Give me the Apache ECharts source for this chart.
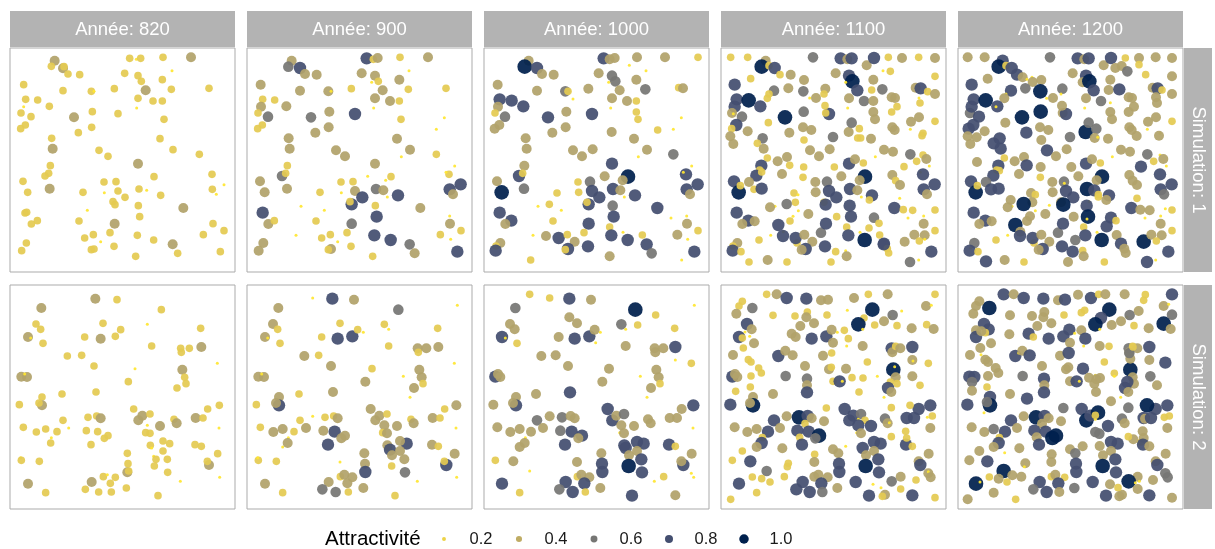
<!DOCTYPE html>
<html><head><meta charset="utf-8">
<script src="https://cdn.jsdelivr.net/npm/echarts@6/dist/echarts.min.js"></script>
<style>html,body{margin:0;padding:0;background:#fff}#c{width:1215px;height:549px}</style>
</head><body><div id="c"></div>
<script>
// Facet labels
const years = ["Année: 820","Année: 900","Année: 1000","Année: 1100","Année: 1200"];
const sims = ["Simulation: 1","Simulation: 2"];
const legendTitle = "Attractivité";
const legendValues = [0.2,0.4,0.6,0.8,1.0];

// Points [x, y, attractivité] (coordinates in a 0..690 field)
const s1_820 = [[140,50,.45],[130,67,.25],[165,73,.45],[168,68,.25],[180,90,.25],[215,92,.25],[365,43,.25],[385,46,.1],[398,43,.25],[465,40,.25],[549,40,.45],[492,80,.1],[350,88,.25],[390,95,.25],[400,112,.25],[463,107,.25],[47,122,.25],[165,140,.25],[250,142,.25],[258,142,.1],[319,134,.25],[413,139,.45],[490,136,.25],[603,133,.25],[53,166,.25],[89,168,.25],[390,163,.25],[435,171,.25],[463,171,.25],[47,188,.1],[124,187,.25],[386,192,.1],[39,207,.25],[69,218,.25],[198,220,.45],[253,203,.25],[330,209,.25],[468,226,.25],[52,243,.25],[38,254,.25],[211,266,.25],[251,250,.25],[131,283,.25],[456,284,.25],[134,314,.45],[273,319,.25],[300,337,.25],[495,317,.25],[574,331,.25],[390,359,.45],[127,365,.25],[122,388,.25],[111,396,.25],[45,412,.25],[438,398,.25],[612,391,.25],[125,434,.45],[59,445,.25],[225,445,.25],[288,414,.25],[324,413,.25],[289,446,.1],[330,441,.25],[351,460,.25],[393,435,.25],[416,439,.1],[458,454,.25],[613,436,.25],[648,422,.1],[625,451,.1],[315,473,.25],[321,482,.25],[391,485,.25],[526,492,.45],[238,499,.1],[51,507,.25],[56,505,.25],[88,530,.25],[70,540,.25],[213,531,.25],[395,518,.25],[320,539,.45],[615,539,.25],[648,560,.25],[586,572,.25],[230,582,.25],[256,572,.25],[306,566,.25],[388,574,.25],[437,588,.25],[55,597,.25],[41,620,.25],[278,593,.1],[250,617,.25],[258,615,.25],[318,607,.25],[494,601,.45],[509,628,.25],[637,623,.25],[383,637,.25]];

const s1_900 = [[140,50,.45],[130,68,.6],[165,72,.8],[180,90,.45],[215,92,.45],[365,43,.8],[385,46,.25],[398,42,.45],[465,40,.25],[549,40,.45],[492,80,.1],[350,88,.45],[390,95,.45],[400,112,.25],[380,115,.1],[463,107,.45],[47,122,.45],[165,140,.45],[250,142,.45],[258,142,.1],[319,134,.25],[413,139,.45],[490,136,.25],[603,133,.25],[53,166,.25],[89,168,.25],[390,163,.45],[435,171,.45],[463,171,.25],[48,188,.45],[124,187,.45],[386,192,.1],[39,207,.25],[69,218,.6],[198,220,.6],[253,203,.45],[330,210,.8],[468,226,.25],[598,221,.1],[52,243,.25],[38,254,.25],[211,266,.45],[251,250,.45],[574,256,.1],[131,283,.45],[456,284,.45],[134,314,.45],[273,319,.45],[300,337,.45],[495,317,.45],[574,331,.25],[469,338,.1],[390,359,.45],[127,365,.25],[629,366,.1],[111,396,.6],[122,388,.25],[45,412,.45],[438,398,.25],[612,391,.25],[603,385,.1],[368,397,.1],[422,409,.1],[647,421,.8],[614,436,.8],[624,451,.45],[126,434,.45],[59,445,.45],[225,445,.25],[288,414,.25],[324,413,.25],[289,446,.1],[330,441,.45],[393,435,.6],[415,439,.45],[352,460,.8],[459,454,.8],[427,459,.1],[320,481,.8],[315,473,.25],[391,485,.25],[526,492,.45],[168,487,.1],[238,499,.1],[53,506,.8],[70,540,.45],[88,530,.25],[213,531,.25],[395,518,.8],[320,539,.6],[615,539,.45],[614,516,.1],[648,560,.25],[586,572,.25],[153,574,.1],[230,582,.25],[256,572,.25],[306,566,.25],[388,574,.8],[437,588,.8],[617,586,.1],[55,597,.45],[41,620,.45],[278,593,.1],[258,615,.45],[250,617,.25],[318,607,.25],[494,601,.6],[509,628,.45],[637,623,.8],[383,637,.25]];

const s1_1000 = [[140,50,.45],[128,68,1],[165,72,.8],[180,90,.45],[215,92,.45],[365,43,.8],[383,46,.45],[398,42,.45],[465,40,.45],[549,40,.45],[648,40,.25],[442,64,.1],[492,80,.1],[350,88,.45],[390,95,.6],[400,112,.6],[380,115,.1],[463,107,.45],[47,122,.45],[165,140,.45],[250,142,.6],[258,142,.25],[273,165,.1],[319,134,.45],[413,139,.45],[490,136,.6],[590,131,.25],[603,133,.45],[53,166,.8],[89,170,.8],[124,187,.8],[390,163,.45],[435,171,.45],[463,171,.25],[48,188,.45],[386,192,.1],[39,207,.25],[69,218,.6],[198,220,.8],[253,203,.45],[330,210,.8],[463,204,.25],[468,226,.25],[598,221,.1],[52,243,.45],[38,254,.45],[211,266,.45],[251,250,.45],[389,264,.45],[527,258,.25],[574,256,.1],[131,283,.45],[456,284,.45],[134,314,.45],[273,319,.45],[300,337,.45],[332,316,.45],[495,317,.45],[574,331,.6],[469,338,.1],[390,359,.8],[127,365,.45],[629,366,.1],[111,396,.8],[122,388,.25],[45,412,.45],[438,398,1],[612,391,.8],[604,385,.1],[368,397,.45],[422,409,.45],[647,421,.8],[614,436,.8],[624,451,.45],[126,434,.6],[59,445,1],[225,447,.25],[288,414,.25],[324,413,.6],[290,445,.25],[330,441,.8],[393,435,.8],[415,439,.45],[352,460,.8],[459,454,.8],[427,459,.1],[320,481,.8],[315,475,.25],[392,485,.6],[526,492,.8],[168,487,.1],[202,481,.25],[238,499,.1],[53,506,.8],[88,530,.8],[70,540,.45],[213,531,.25],[395,518,.8],[320,539,.8],[383,549,.25],[615,539,.45],[614,516,.1],[567,522,.1],[648,560,.25],[586,572,.45],[153,574,.1],[192,576,.45],[230,582,.8],[256,572,.25],[278,593,.45],[306,566,.25],[388,574,.8],[423,565,.1],[437,588,.8],[481,573,.25],[617,586,.1],[55,597,.45],[42,606,.25],[41,620,.8],[258,615,.8],[250,617,.25],[318,607,.8],[494,601,.8],[509,628,.6],[637,623,.8],[383,637,.45],[146,648,.25],[599,648,.1]];

const s1_1100 = [[35,40,.25],[86,40,.25],[140,50,.45],[128,68,1],[150,65,.25],[167,72,.8],[183,92,.25],[215,92,.45],[282,40,.6],[365,43,.8],[385,46,.45],[398,43,.8],[443,64,.45],[465,42,.8],[508,40,.25],[549,42,.45],[599,40,.25],[648,42,.45],[492,80,.1],[514,82,.25],[648,97,.25],[95,104,.25],[47,122,.8],[255,108,.45],[350,88,.45],[390,95,.8],[400,112,1],[380,115,.1],[415,139,.8],[463,107,.45],[165,140,.6],[150,150,.25],[145,163,.25],[208,133,.45],[253,142,.6],[319,134,.45],[315,150,.25],[272,162,.1],[291,162,.45],[458,138,.25],[490,136,.6],[590,131,.45],[605,133,.8],[626,143,.25],[648,150,.45],[53,166,.8],[89,169,1],[124,187,.8],[47,188,.8],[39,207,.45],[43,209,.1],[69,218,.6],[198,220,1],[254,203,.6],[330,210,.8],[320,207,.25],[318,185,.25],[390,163,.45],[435,171,.6],[463,171,.45],[463,204,.45],[468,226,.45],[518,160,.45],[528,162,.45],[534,188,.25],[518,204,.25],[603,177,.25],[600,162,.1],[386,192,.1],[52,243,.8],[38,254,.25],[148,236,.25],[211,266,.45],[252,250,.45],[277,258,.45],[389,264,.45],[398,236,.6],[421,254,.25],[416,282,.25],[425,282,.25],[456,284,.45],[527,258,.45],[520,250,.45],[576,233,.45],[600,220,.45],[648,232,.25],[574,256,.1],[612,268,.25],[609,275,.25],[34,277,.45],[86,262,.45],[131,283,.6],[43,300,.45],[115,298,.25],[134,314,.45],[255,288,.25],[342,279,.6],[273,319,.45],[300,337,.45],[332,316,.45],[495,317,.45],[522,323,.45],[574,331,.6],[612,333,.25],[622,345,.45],[469,338,.1],[593,352,.25],[176,352,.45],[204,339,.45],[212,364,.25],[145,342,.25],[127,365,.8],[122,378,.25],[112,395,.8],[128,384,.25],[189,390,.45],[254,369,.25],[346,369,.25],[433,357,.25],[390,359,.8],[408,346,.45],[367,397,.45],[438,398,1],[422,409,.45],[555,368,.25],[604,385,.1],[612,391,.8],[631,366,.1],[520,393,.45],[530,410,.25],[543,423,.45],[45,412,.8],[59,445,1],[64,425,.25],[90,414,.45],[105,436,.25],[128,434,.8],[252,400,.25],[289,414,.45],[324,413,.6],[290,445,.45],[330,441,.8],[352,460,.8],[393,435,.8],[415,439,.45],[459,454,.8],[427,459,.1],[451,468,.25],[647,421,.8],[614,436,.8],[624,451,.45],[225,447,.25],[237,452,.1],[229,475,.25],[203,480,.6],[168,487,.1],[238,500,.1],[153,490,.45],[315,475,.25],[320,482,.8],[392,485,.8],[542,463,.1],[526,492,.8],[553,497,.25],[581,499,.25],[648,498,.25],[53,506,.8],[88,530,.8],[70,540,.45],[107,532,.45],[213,531,.25],[222,517,.1],[268,510,.45],[353,518,.25],[396,518,.8],[465,521,.6],[480,538,.25],[567,522,.1],[614,516,.1],[614,539,.45],[178,543,.8],[193,563,.1],[192,576,.8],[155,574,.1],[120,588,.25],[234,597,.25],[230,582,.8],[256,572,.45],[280,593,.45],[306,566,.6],[321,539,.8],[383,549,.25],[388,574,.8],[437,588,1],[423,565,.1],[450,552,.25],[482,573,.25],[495,599,.8],[505,614,.25],[509,627,.25],[557,593,.45],[586,572,.45],[617,574,.45],[601,591,.25],[648,560,.25],[617,586,.1],[55,597,.45],[42,606,.25],[41,620,.8],[66,623,.25],[260,615,.8],[248,617,.45],[318,607,.8],[350,623,.25],[380,620,.1],[383,637,.45],[494,601,.8],[637,623,.8],[90,654,.25],[146,648,.45],[204,654,.25],[336,654,.25],[573,654,.6],[599,648,.1]];

const s1_1200 = [[35,40,.45],[86,40,.45],[140,50,.8],[128,68,1],[150,65,.25],[167,72,.8],[183,92,.8],[200,100,.45],[213,106,.1],[228,100,.1],[230,114,.45],[256,108,.45],[282,40,.6],[365,43,.8],[385,46,.45],[398,43,.8],[443,64,.45],[465,42,.8],[478,72,.45],[497,66,.45],[508,42,.25],[514,82,.6],[549,42,.45],[549,62,.25],[569,92,.25],[599,40,.45],[648,42,.45],[648,97,.45],[95,104,.45],[47,122,.8],[350,88,.45],[390,95,.8],[380,115,.45],[400,112,1],[413,139,.8],[463,107,.45],[458,138,.45],[490,136,.8],[165,140,.8],[150,150,.1],[145,163,.45],[208,133,.6],[253,142,1],[319,134,.6],[315,150,.1],[272,163,.1],[291,162,.45],[590,131,.45],[605,133,.8],[618,138,.25],[648,150,.45],[53,166,.8],[89,169,1],[124,187,.8],[120,188,.1],[42,207,.6],[69,218,.8],[47,188,.8],[198,220,1],[254,203,1],[320,207,.45],[330,210,.8],[318,185,.45],[390,163,.45],[435,171,.6],[463,176,.1],[463,204,.45],[468,226,.45],[518,160,.45],[528,162,.45],[534,188,.45],[518,204,.45],[603,177,.45],[600,160,.45],[386,192,.1],[52,243,.8],[38,254,.8],[35,277,.45],[43,300,.45],[62,280,.45],[86,262,.45],[148,236,.45],[211,266,.8],[252,250,.45],[277,258,.45],[256,288,.45],[342,279,.6],[389,264,1],[398,236,.6],[421,254,.6],[416,282,.45],[425,280,.1],[456,284,.45],[520,250,.45],[527,258,.45],[542,276,.45],[576,233,.45],[600,220,.45],[648,232,.25],[574,256,.1],[612,268,.1],[609,275,.45],[113,298,.8],[131,283,.8],[134,314,.8],[273,319,.8],[300,337,.45],[332,316,.45],[495,317,.45],[522,323,.45],[574,331,.6],[612,333,.1],[622,345,.45],[593,352,.25],[469,338,.1],[63,354,.45],[145,342,.25],[176,352,.45],[204,339,.45],[212,364,.8],[127,365,.8],[122,378,.25],[130,380,.25],[112,395,.8],[189,390,.45],[254,369,.45],[346,369,.45],[390,359,.8],[408,346,.45],[433,357,.25],[367,397,.45],[438,398,1],[422,409,.45],[555,368,.8],[612,391,.8],[631,366,.1],[520,393,.45],[530,410,.45],[543,423,.45],[45,412,.8],[59,445,1],[64,425,.25],[90,414,.6],[105,436,.8],[128,434,.8],[253,400,.25],[289,414,.45],[324,413,.6],[325,418,.1],[290,445,.45],[330,441,.8],[352,460,.8],[393,435,1],[415,439,.8],[427,452,.25],[427,459,.25],[459,454,.8],[451,468,.45],[399,473,.1],[647,421,.8],[614,436,.8],[624,451,.6],[225,447,.45],[238,452,.25],[229,475,.45],[203,480,1],[168,487,.1],[164,468,.45],[155,490,.45],[238,500,.1],[280,484,.1],[315,475,.45],[322,482,1],[392,485,.8],[543,463,.25],[526,492,.8],[553,497,.45],[581,499,.45],[628,494,.1],[648,498,.25],[53,506,.8],[88,530,.8],[70,540,.45],[107,532,.45],[178,543,1],[213,531,.45],[222,517,.45],[268,510,.45],[353,518,.45],[396,518,1],[393,525,.1],[465,521,.8],[480,530,.25],[452,547,.8],[567,522,.1],[614,516,.1],[614,539,.45],[193,563,.45],[192,576,.8],[155,574,.1],[120,588,.25],[234,597,.25],[230,582,.8],[256,572,.45],[280,593,.45],[306,566,.6],[321,539,.8],[383,549,.25],[358,588,.6],[388,574,.8],[437,588,1],[423,565,.1],[482,573,.45],[495,599,.8],[505,614,.45],[509,627,.45],[563,593,1],[586,572,.45],[617,574,.45],[601,591,.25],[648,560,.25],[55,597,.6],[44,612,.1],[41,620,.8],[66,623,.25],[260,615,.8],[248,617,.45],[318,607,.8],[350,623,.8],[380,620,.25],[383,637,.45],[637,623,.8],[90,652,.8],[146,648,.45],[204,654,.25],[336,654,.45],[445,654,.25],[573,654,.8],[599,648,.1]];

const s2_820 = [[262,50,.45],[327,53,.25],[100,78,.45],[460,83,.25],[84,126,.25],[98,142,.25],[285,124,.25],[418,127,.1],[60,165,.45],[68,168,.1],[105,184,.25],[230,165,.25],[278,170,.45],[322,163,.25],[338,143,.25],[578,139,.25],[580,195,.45],[431,192,.25],[518,199,.25],[520,211,.25],[544,199,.25],[178,222,.25],[221,220,.25],[258,252,.25],[628,244,.1],[381,260,.1],[40,284,.45],[57,285,.45],[50,276,.1],[523,263,.45],[530,286,.25],[534,305,.25],[507,318,.25],[361,299,.25],[264,330,.25],[162,336,.25],[102,345,.25],[102,370,.45],[93,363,.25],[34,368,.25],[634,370,.25],[599,381,.25],[377,381,.25],[403,401,.45],[391,415,.45],[426,396,.25],[456,432,.45],[498,412,.25],[506,424,.45],[563,408,.45],[585,408,.25],[240,406,.25],[266,402,.25],[278,409,.45],[165,415,.25],[46,436,.25],[85,450,.25],[113,441,.25],[147,449,.25],[182,438,.1],[235,446,.25],[269,449,.25],[633,438,.1],[418,430,.1],[413,452,.25],[426,454,.25],[300,461,.25],[289,469,.25],[130,467,.1],[128,483,.25],[249,488,.25],[465,477,.25],[485,485,.25],[427,490,.25],[431,498,.1],[465,507,.25],[561,488,.25],[580,493,.25],[629,515,.25],[358,514,.25],[437,523,.1],[444,532,.25],[478,532,.25],[38,527,.1],[40,535,.25],[94,538,.25],[360,545,.25],[603,549,.45],[598,538,.25],[439,552,.25],[479,571,.25],[358,571,.45],[362,567,.25],[286,584,.25],[298,578,.1],[322,586,.25],[307,604,.25],[251,600,.45],[60,605,.45],[113,632,.25],[232,622,.25],[272,630,.25],[310,630,.25],[355,618,.25],[517,598,.1],[450,641,.25],[635,586,.1]];

const s2_900 = [[203,48,.1],[262,50,.8],[327,53,.45],[460,83,.6],[637,70,.1],[100,78,.45],[84,126,.45],[98,142,.25],[60,165,.45],[68,168,.1],[105,184,.25],[285,124,.25],[230,165,.25],[278,170,.8],[322,163,.8],[338,143,.25],[355,151,.1],[418,127,.25],[431,142,.1],[578,139,.25],[431,192,.25],[518,199,.45],[520,211,.25],[544,199,.45],[580,195,.45],[178,222,.45],[221,220,.25],[258,252,.45],[628,244,.1],[381,260,.25],[40,284,.45],[57,285,.45],[50,276,.1],[523,263,.45],[530,286,.45],[534,305,.25],[507,318,.45],[475,283,.1],[361,299,.45],[264,330,.45],[162,336,.25],[495,346,.1],[102,345,.45],[102,370,.8],[93,363,.45],[34,368,.25],[634,370,.45],[599,381,.25],[377,381,.45],[403,401,.45],[391,415,.45],[426,396,.25],[456,432,.45],[498,412,.25],[506,424,.45],[563,408,.45],[585,408,.25],[203,403,.1],[240,406,.25],[266,402,.25],[278,409,.45],[165,415,.25],[46,436,.25],[85,450,.45],[113,441,.45],[147,449,.25],[183,438,.45],[235,446,.45],[269,449,.8],[633,438,.1],[418,430,.45],[413,452,.25],[426,454,.45],[300,461,.45],[289,469,.45],[130,467,.1],[128,483,.45],[113,495,.1],[249,488,.8],[485,485,.8],[465,477,.45],[427,490,.45],[431,498,.25],[435,503,.8],[465,507,.45],[441,520,.45],[561,488,.45],[580,493,.25],[629,515,.45],[358,514,.45],[478,532,.45],[440,552,.25],[40,535,.25],[38,527,.1],[94,538,.25],[285,540,.1],[360,545,.45],[604,549,.8],[598,538,.25],[480,571,.6],[361,570,.8],[286,584,.25],[298,578,.45],[322,586,.45],[307,604,.45],[251,600,.45],[60,605,.45],[113,632,.25],[232,622,.6],[272,630,.6],[310,630,.25],[355,618,.45],[517,598,.1],[450,641,.25],[635,586,.1]];

const s2_1000 = [[143,37,.25],[203,48,.25],[262,50,.8],[327,53,.45],[460,83,1],[521,99,.25],[637,70,.1],[100,78,.6],[84,126,.45],[98,142,.45],[60,165,.8],[70,168,.1],[105,184,.25],[262,106,.45],[285,124,.45],[230,165,.45],[278,170,.8],[322,163,.8],[338,143,.45],[355,151,.1],[341,182,.1],[418,127,.6],[431,142,.1],[467,129,.25],[578,139,.25],[431,192,.45],[518,199,.45],[520,211,.45],[544,199,.45],[580,195,.8],[580,234,.1],[628,244,.25],[178,222,.45],[221,220,.45],[258,252,.45],[381,260,.45],[40,284,.8],[55,285,.45],[48,276,.45],[523,263,.45],[530,286,.45],[534,305,.25],[507,318,.45],[475,283,.1],[361,299,.45],[264,331,.8],[162,336,.45],[495,346,.1],[102,345,.45],[102,370,.8],[93,363,.45],[34,368,.45],[634,370,.8],[599,381,.45],[377,381,.8],[391,415,.8],[403,401,.45],[426,396,.6],[456,432,.45],[498,412,.45],[506,424,.45],[563,408,.45],[585,408,.45],[165,415,.6],[203,403,.45],[240,406,.6],[266,402,.45],[278,409,.45],[46,436,.45],[85,450,.45],[113,441,.45],[147,449,.45],[183,438,.45],[235,446,.6],[269,449,.8],[300,461,.8],[289,469,.45],[633,438,.1],[418,430,.45],[413,452,.1],[426,454,.45],[130,467,.1],[128,483,.45],[113,495,.45],[249,488,.8],[465,480,.8],[485,485,.8],[427,490,.8],[431,498,.8],[441,520,.45],[465,507,.45],[561,488,.8],[580,493,.25],[629,515,.45],[358,514,.45],[478,532,.8],[440,552,1],[480,571,.8],[40,535,.25],[94,538,.45],[285,540,.45],[360,545,.8],[361,570,.8],[604,549,.8],[598,538,.45],[628,574,.1],[635,586,.1],[545,584,.25],[143,567,.1],[286,584,.25],[298,578,.45],[322,586,.45],[307,604,.8],[251,600,.8],[60,605,.8],[113,632,.25],[232,622,.6],[272,630,.8],[310,630,.25],[355,618,.45],[517,598,.1],[450,641,.8],[580,640,.45]];

const s2_1100 = [[143,37,.25],[173,37,.45],[203,48,.8],[262,50,.8],[306,55,.45],[327,53,.45],[405,48,.45],[448,37,.25],[506,37,.45],[648,37,.25],[460,83,1],[621,72,.45],[637,70,.1],[100,78,.6],[70,58,.25],[60,72,.25],[52,95,.45],[162,100,.25],[228,102,.25],[265,90,.25],[262,106,.45],[324,99,.25],[385,85,.1],[435,108,.25],[418,127,1],[431,142,.1],[467,129,.25],[495,118,.45],[513,105,.1],[521,99,.6],[548,87,.1],[534,131,.25],[578,139,.45],[623,128,.25],[644,141,.45],[84,126,.8],[98,142,.45],[60,165,.8],[70,168,.25],[78,150,.1],[92,163,.1],[105,184,.45],[42,219,.45],[73,198,.25],[88,233,.25],[96,240,.25],[119,258,.25],[127,273,.25],[244,132,.45],[285,124,.45],[218,155,.45],[230,165,.45],[278,170,.8],[322,163,.8],[338,143,.45],[355,151,.1],[342,182,.45],[376,145,.25],[388,170,.25],[383,192,.1],[431,192,.45],[518,199,.8],[520,211,.45],[530,193,.25],[544,199,.45],[580,195,.8],[580,234,.45],[628,244,.25],[582,237,.1],[188,213,.1],[178,222,.8],[199,206,.45],[221,220,.45],[312,221,.45],[338,213,.25],[445,240,.25],[258,252,.45],[330,262,.45],[337,256,.25],[381,260,.45],[40,284,.8],[55,285,.45],[48,276,.45],[96,282,.25],[200,282,.6],[264,290,.6],[264,310,.45],[264,331,.8],[342,298,.25],[362,298,.8],[370,298,.1],[399,287,.25],[432,288,.25],[475,283,.1],[523,263,1],[527,254,.1],[530,286,.45],[534,305,.25],[514,300,.25],[507,318,.8],[517,330,.45],[603,310,.25],[580,283,.45],[50,328,.25],[94,315,.25],[162,336,.45],[420,330,.25],[495,346,.1],[102,345,.45],[102,370,1],[93,363,.45],[34,368,.8],[634,370,.8],[599,381,.8],[573,370,.25],[517,377,.25],[322,378,.25],[377,381,.8],[391,415,.8],[403,401,.8],[426,396,.6],[418,412,.1],[438,415,.25],[456,432,.8],[498,410,.6],[506,424,.45],[511,422,.1],[563,408,.8],[585,408,.8],[625,406,.1],[640,402,.25],[634,438,.45],[165,415,.8],[203,403,.45],[240,406,1],[266,402,.8],[278,409,.45],[315,418,.45],[258,425,.25],[47,436,.45],[85,450,.45],[113,441,.45],[147,449,.8],[183,438,.45],[235,446,.8],[269,449,.8],[300,461,1],[289,469,.6],[242,466,.25],[418,430,.8],[413,452,.1],[426,454,.45],[560,448,.25],[130,467,.25],[128,483,.8],[113,495,.45],[190,499,.45],[249,488,.8],[380,493,.1],[465,480,.8],[485,485,.8],[431,498,.8],[441,520,.45],[465,507,.45],[517,464,.25],[561,488,.8],[580,493,.25],[563,468,.25],[629,515,.45],[342,502,.45],[358,514,.45],[287,517,.25],[286,540,.45],[478,532,.8],[440,552,1],[480,571,.8],[40,535,.25],[94,538,.8],[70,507,.25],[208,544,.25],[205,554,.25],[360,545,.8],[361,570,.8],[599,538,.45],[604,549,.8],[628,574,.45],[628,569,.1],[635,586,.45],[591,594,.25],[545,584,.45],[518,598,.6],[498,638,.45],[545,621,.25],[143,567,.6],[100,585,.25],[128,590,.25],[153,600,.25],[196,584,.25],[286,584,.45],[298,578,.45],[326,586,.45],[307,604,.8],[251,600,.8],[232,622,.8],[272,630,.8],[310,630,.6],[355,618,.45],[410,600,.8],[462,607,.1],[486,617,.1],[490,643,.25],[450,641,.8],[580,640,.8],[648,647,.25],[60,605,.8],[113,632,.25],[35,652,.25]];

const s2_1200 = [[143,37,.8],[173,37,.45],[203,48,.8],[262,50,.8],[306,55,.45],[327,53,.8],[366,38,.45],[405,48,.8],[428,37,.25],[448,37,.45],[506,37,.45],[568,38,.25],[563,55,.25],[648,37,.8],[100,78,1],[70,58,.45],[60,72,.45],[52,95,.45],[162,100,.45],[228,102,.45],[265,90,.45],[262,106,.45],[324,99,.25],[376,92,.25],[386,85,.25],[460,83,1],[435,108,.8],[418,127,1],[431,142,.1],[467,129,.45],[495,118,.45],[513,105,.1],[521,99,.6],[548,87,.45],[534,131,.25],[578,139,.45],[623,72,.45],[638,67,.1],[648,98,.6],[623,125,1],[644,141,.45],[84,126,.8],[98,142,.8],[88,152,.25],[60,145,.45],[60,165,.8],[76,148,.45],[105,184,.45],[42,219,.45],[73,198,.45],[75,218,.1],[88,233,.45],[96,240,.45],[119,258,.45],[127,273,.45],[160,157,.45],[244,132,.45],[286,124,.45],[218,155,.8],[232,165,.25],[278,170,.8],[322,163,.8],[340,143,.8],[356,154,.1],[342,182,.45],[376,145,.45],[388,170,.8],[383,192,.1],[431,192,.45],[459,193,.25],[518,199,.6],[520,211,.45],[530,193,.25],[544,199,.45],[580,195,.8],[580,234,.45],[628,242,.8],[178,222,.8],[188,213,.1],[199,206,.45],[221,220,.8],[312,221,.45],[338,213,.8],[445,240,.25],[258,252,.45],[330,262,.45],[337,256,.45],[381,260,.8],[40,284,.8],[55,285,.8],[48,300,.6],[48,326,.45],[96,282,.45],[93,315,.25],[200,282,.6],[264,290,.8],[265,310,.45],[264,331,.8],[342,298,.45],[362,298,.8],[370,298,.1],[399,287,.45],[418,280,.1],[421,292,.45],[415,305,.45],[420,330,.45],[432,288,.45],[475,274,.25],[475,283,.1],[523,263,1],[523,230,.45],[520,213,.6],[531,195,.25],[530,286,.45],[534,305,.45],[514,300,.8],[507,318,.8],[517,330,.45],[583,283,.6],[603,310,.45],[494,346,.1],[465,358,.45],[162,336,.45],[102,345,.8],[102,370,1],[93,360,.6],[34,368,.8],[84,392,.1],[213,350,.8],[634,370,.8],[599,381,.8],[573,370,1],[517,377,.6],[322,378,.6],[377,381,.8],[391,415,1],[403,401,.8],[426,392,1],[418,412,.1],[418,400,.25],[456,432,.8],[498,410,.6],[506,424,.45],[563,408,.8],[567,410,.45],[585,408,.8],[625,406,.25],[640,402,.25],[634,438,.45],[165,415,.8],[203,403,.45],[240,406,1],[266,402,.8],[278,409,.45],[315,418,.45],[258,425,.45],[47,436,.45],[85,450,.45],[113,441,.6],[147,449,.8],[183,438,.45],[235,446,.8],[269,449,.8],[300,461,1],[289,468,1],[242,466,.45],[418,450,.6],[430,455,.6],[560,448,.45],[532,472,.45],[555,480,.25],[563,468,.45],[130,467,.25],[128,483,.8],[113,495,.45],[190,499,.45],[249,488,.8],[380,493,.45],[465,480,.8],[485,485,.8],[431,492,.45],[441,520,.45],[465,507,.45],[517,464,.25],[561,488,.8],[580,493,.45],[629,515,.45],[342,502,.45],[358,514,.6],[287,517,.45],[146,512,.1],[286,540,.45],[478,532,.8],[440,552,1],[480,571,.8],[40,535,.45],[94,538,.8],[70,507,.45],[208,544,.45],[205,554,.1],[360,545,.8],[361,570,.8],[599,538,.45],[604,549,.8],[628,574,.6],[635,586,.6],[591,594,.45],[545,584,.45],[518,598,1],[538,602,.1],[550,598,.1],[498,638,.45],[545,621,.45],[143,567,1],[100,585,.25],[128,590,.45],[153,600,.25],[169,580,.45],[196,584,.45],[286,584,.25],[298,578,.45],[326,586,.25],[307,604,.8],[251,600,.8],[232,622,.6],[272,630,.8],[310,630,.45],[355,618,.6],[410,600,.8],[462,607,.45],[486,617,.25],[490,643,.45],[450,641,.8],[580,640,.8],[648,647,.45],[60,605,1],[72,600,.1],[113,632,.45],[35,652,.45],[179,652,.25]];

const panels = [[s1_820,s1_900,s1_1000,s1_1100,s1_1200],[s2_820,s2_900,s2_1000,s2_1100,s2_1200]];

// ---- styling helpers ----
const FONT = '"Liberation Sans", Arial, Helvetica, sans-serif';
const colorStops = [[0.1,[255,230,50]],[0.25,[228,202,82]],[0.45,[178,162,106]],[0.6,[118,118,116]],[0.8,[68,79,112]],[1.0,[0,32,77]]];
const sizeStops = [[0.1,3.0],[0.25,7.6],[0.45,10.0],[0.6,10.6],[0.8,12.4],[1.0,14.6]];
function interp(stops, v){
  if (v <= stops[0][0]) return stops[0][1];
  for (let i=1;i<stops.length;i++){
    if (v <= stops[i][0]){
      const a=stops[i-1], b=stops[i], t=(v-a[0])/(b[0]-a[0]);
      if (Array.isArray(a[1])) return a[1].map((c,k)=>c+(b[1][k]-c)*t);
      return a[1]+(b[1]-a[1])*t;
    }
  }
  return stops[stops.length-1][1];
}
function colorOf(v){ const c=interp(colorStops,v).map(Math.round); return 'rgb('+c.join(',')+')'; }
function sizeOf(v){ return interp(sizeStops,v); }

const PL=10, PT=[48,285], PW=225, PH=224, DX=237;
const yRange=[[12,684],[9,681]];
const grids=[], xAxes=[], yAxes=[], series=[], graphics=[];
for (let r=0;r<2;r++){
  for (let c=0;c<5;c++){
    const i=grids.length;
    grids.push({left:PL+DX*c, top:PT[r], width:PW, height:PH, show:true, borderColor:'#ABABAB', borderWidth:1, backgroundColor:'#fff'});
    xAxes.push({gridIndex:i, type:'value', min:6, max:681, show:false});
    yAxes.push({gridIndex:i, type:'value', min:yRange[r][0], max:yRange[r][1], inverse:true, show:false});
    series.push({type:'scatter', xAxisIndex:i, yAxisIndex:i, data:panels[r][c], clip:true, silent:true,
      symbolSize:(d)=>sizeOf(d[2]),
      itemStyle:{opacity:0.93, color:(p)=>colorOf(p.data[2])}});
  }
}
// legend grid
const li=grids.length;
grids.push({left:444, top:529, width:300, height:20, show:false});
xAxes.push({gridIndex:li, type:'value', min:0.2, max:1.0, show:false});
yAxes.push({gridIndex:li, type:'value', min:-1, max:1, show:false});
series.push({type:'scatter', xAxisIndex:li, yAxisIndex:li, silent:true, data:legendValues.map(v=>[v,0]),
  symbolSize:(d)=>sizeOf(d[0])*0.65,
  itemStyle:{opacity:1, color:(p)=>colorOf(p.data[0])},
  label:{show:true, position:'inside', offset:[37,0], color:'#1a1a1a', fontSize:16.5, fontFamily:FONT,
    formatter:(p)=>p.data[0].toFixed(1)}});

// strips
for (let c=0;c<5;c++){
  graphics.push({type:'rect', shape:{x:PL+DX*c, y:11, width:PW, height:36}, style:{fill:'#B3B3B3'}, silent:true});
  graphics.push({type:'text', x:PL+DX*c+PW/2, y:29.5, style:{text:years[c], fill:'#fff', fontSize:18.5, fontFamily:FONT, align:'center', verticalAlign:'middle'}, silent:true});
}
for (let r=0;r<2;r++){
  graphics.push({type:'rect', shape:{x:1184, y:PT[r], width:28, height:PH}, style:{fill:'#B3B3B3'}, silent:true});
  graphics.push({type:'text', x:1198, y:PT[r]+PH/2, rotation:-Math.PI/2, style:{text:sims[r], fill:'#fff', fontSize:18.5, fontFamily:FONT, align:'center', verticalAlign:'middle'}, silent:true});
}
graphics.push({type:'text', x:325, y:539, style:{text:legendTitle, fill:'#000', fontSize:20.5, fontFamily:FONT, align:'left', verticalAlign:'middle'}, silent:true});

const chart = echarts.init(document.getElementById('c'), null, {renderer:'canvas'});
chart.setOption({animation:false, backgroundColor:'#fff', grid:grids, xAxis:xAxes, yAxis:yAxes, series:series, graphic:graphics});
</script></body></html>
